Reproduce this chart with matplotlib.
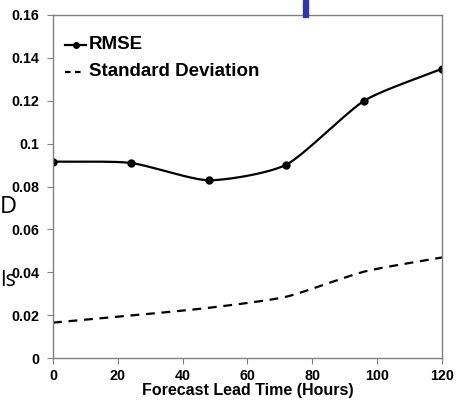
import numpy as np
import matplotlib
matplotlib.use("Agg")
import matplotlib.pyplot as plt
from matplotlib.patches import Rectangle

# Data
lead_hours = [0, 24, 48, 72, 96, 120]
rmse = [0.0916, 0.0910, 0.0829, 0.0902, 0.1200, 0.1349]
std_dev = [0.0165, 0.0198, 0.0234, 0.0286, 0.0403, 0.0469]

x_ticks = [0, 20, 40, 60, 80, 100, 120]
y_ticks = [0, 0.02, 0.04, 0.06, 0.08, 0.1, 0.12, 0.14, 0.16]
y_labels = ["0", "0.02", "0.04", "0.06", "0.08", "0.1", "0.12", "0.14", "0.16"]


def smooth(xs, ys, n=40, tension=0.35):
    # cardinal spline through the points, close to Excel's smoothed line
    xs = np.asarray(xs, float)
    ys = np.asarray(ys, float)
    t = np.linspace(0, 1, n)
    h00 = 2 * t ** 3 - 3 * t ** 2 + 1
    h10 = t ** 3 - 2 * t ** 2 + t
    h01 = -2 * t ** 3 + 3 * t ** 2
    h11 = t ** 3 - t ** 2
    k = len(xs)
    out_x, out_y = [], []
    for arr, out in ((xs, out_x), (ys, out_y)):
        m = np.zeros(k)
        for i in range(k):
            a = arr[max(i - 1, 0)]
            b = arr[min(i + 1, k - 1)]
            m[i] = (1 - tension) * (b - a) / (2 if 0 < i < k - 1 else 1)
        for i in range(k - 1):
            out.extend(h00 * arr[i] + h10 * m[i] + h01 * arr[i + 1] + h11 * m[i + 1])
    return np.array(out_x), np.array(out_y)


plt.rcParams['font.family'] = ['Liberation Sans', 'DejaVu Sans']

fig = plt.figure(figsize=(4.62, 4.01), dpi=100)
ax = fig.add_axes([53 / 462, 1 - 358 / 401, 389 / 462, 343 / 401])

sx, sy = smooth(lead_hours, rmse)
ax.plot(sx, sy, color='black', lw=1.6)
ax.plot(lead_hours, rmse, 'o', color='black', ms=5, ls='none')

dx, dy = smooth(lead_hours, std_dev)
ax.plot(dx, dy, color='black', lw=1.6, ls=(0, (4, 3)))

ax.set_xlim(0, 120)
ax.set_ylim(0, 0.16)
ax.set_xticks(x_ticks)
ax.set_yticks(y_ticks)
ax.set_yticklabels(y_labels)
for lbl in ax.get_xticklabels() + ax.get_yticklabels():
    lbl.set_fontweight('bold')
    lbl.set_fontsize(10.3)
ax.tick_params(axis='both', color='#808080', length=4, width=0.8, direction='out')
ax.tick_params(axis='x', pad=4)
ax.tick_params(axis='y', pad=6)
for s in ax.spines.values():
    s.set_color('#808080')
    s.set_linewidth(1.0)

ax.set_xlabel("Forecast Lead Time (Hours)", fontsize=11.5, fontweight='bold', labelpad=0)

# legend drawn as in the original slide
ax.plot([3.7, 10.2], [0.1462, 0.1462], color='black', lw=1.6)
ax.plot([7.0], [0.1462], 'o', color='black', ms=4)
ax.plot([3.7, 9.8], [0.1336, 0.1336], color='black', lw=1.6, ls=(0, (2.5, 2)))
ax.text(11.0, 0.1462, "RMSE", fontsize=13.5, fontweight='bold', va='center')
ax.text(11.0, 0.1336, "Standard Deviation", fontsize=13.5, fontweight='bold', va='center')

# fragments of the surrounding slide
fig.text(0.0, 1 - 207 / 401, "D", fontsize=17, family='Open Sans', va='center')
fig.text(0.0, 1 - 281 / 401, "ls", fontsize=15.5, family='Open Sans', va='center')
fig.patches.append(Rectangle((303 / 462, 1 - 17 / 401), 5 / 462, 17 / 401,
                             transform=fig.transFigure, color='#3333aa'))

fig.savefig("out.png", dpi=100)
